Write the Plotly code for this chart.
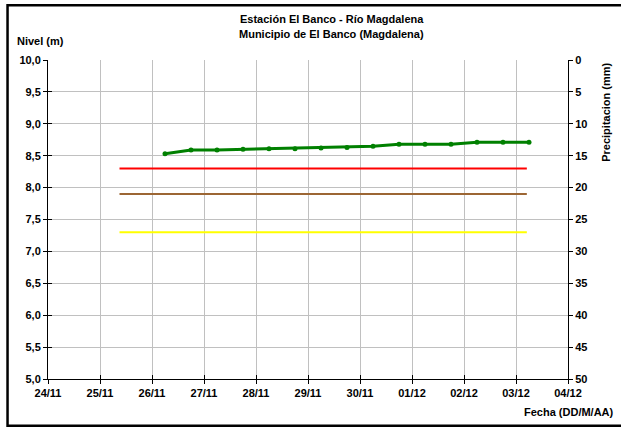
import plotly.graph_objects as go

# ---- data ----
nivel_times = [
    "2023-11-26 06:00", "2023-11-26 18:00", "2023-11-27 06:00", "2023-11-27 18:00",
    "2023-11-28 06:00", "2023-11-28 18:00", "2023-11-29 06:00", "2023-11-29 18:00",
    "2023-11-30 06:00", "2023-11-30 18:00", "2023-12-01 06:00", "2023-12-01 18:00",
    "2023-12-02 06:00", "2023-12-02 18:00", "2023-12-03 06:00",
]
nivel_values = [8.53, 8.59, 8.59, 8.60, 8.61, 8.61, 8.62, 8.63,
                8.65, 8.68, 8.68, 8.68, 8.71, 8.71, 8.71]

umbral_times = ["2023-11-25 09:00", "2023-12-03 05:00"]
umbral_rojo = 8.30
umbral_naranja = 7.90
umbral_amarillo = 7.30

x_range = ["2023-11-24", "2023-12-04"]
y_range = [5.0, 10.0]
y2_range = [50, 0]

FONT = "Arial, Liberation Sans, sans-serif"

fig = go.Figure()

for val, col in [(umbral_rojo, "#ff0000"), (umbral_naranja, "#9c6634"), (umbral_amarillo, "#ffff00")]:
    fig.add_trace(go.Scatter(x=umbral_times, y=[val, val], mode="lines",
                             line=dict(color=col, width=2), showlegend=False,
                             hoverinfo="skip"))

fig.add_trace(go.Scatter(x=nivel_times, y=nivel_values, mode="lines+markers",
                         line=dict(color="#008000", width=3),
                         marker=dict(color="#008000", size=5),
                         showlegend=False))

# dummy trace for the precipitation axis
fig.add_trace(go.Scatter(x=[x_range[0]], y=[None], yaxis="y2", mode="lines",
                         showlegend=False, hoverinfo="skip"))
# dummy trace for inner tick half on left / bottom axes
fig.add_trace(go.Scatter(x=[x_range[0]], y=[None], yaxis="y3", xaxis="x2", mode="lines",
                         showlegend=False, hoverinfo="skip"))

tickfont = dict(family=FONT, size=11, color="black", weight="bold")

fig.update_layout(
    width=621, height=428,
    margin=dict(l=48, r=52.5, t=59.5, b=48.5),
    paper_bgcolor="white", plot_bgcolor="white",
    separators=",.",
    font=dict(family=FONT, size=11, color="black"),
    xaxis=dict(type="date", range=x_range, dtick=86400000, tick0="2023-11-24",
               tickformat="%d/%m", showgrid=True, gridcolor="#c0c0c0", gridwidth=1,
               showline=True, linecolor="black", linewidth=1, ticks="outside",
               ticklen=4, tickcolor="black", tickfont=tickfont, zeroline=False),
    xaxis2=dict(type="date", range=x_range, dtick=86400000, tick0="2023-11-24",
                overlaying="x", showticklabels=False, showgrid=False,
                ticks="inside", ticklen=4, tickcolor="black", showline=False),
    yaxis=dict(range=y_range, dtick=0.5, tickformat=".1f", showgrid=True,
               gridcolor="#c0c0c0", gridwidth=1, showline=True, linecolor="black",
               linewidth=1, ticks="outside", ticklen=4, tickcolor="black",
               tickfont=tickfont, zeroline=False),
    yaxis2=dict(range=y2_range, dtick=5, overlaying="y", side="right",
                showgrid=False, showline=True, linecolor="black", linewidth=1,
                ticks="outside", ticklen=4, tickcolor="black", tickfont=tickfont,
                zeroline=False),
    yaxis3=dict(range=y_range, dtick=0.5, overlaying="y", showticklabels=False,
                showgrid=False, ticks="inside", ticklen=4, tickcolor="black",
                zeroline=False),
    shapes=[
        dict(type="rect", xref="paper", yref="paper",
             x0=(7.5 - 48) / 520.5, x1=1.2, y0=(379.5 - 426.5) / 320, y1=(379.5 - 4.5) / 320,
             line=dict(color="black", width=2.5), fillcolor="rgba(0,0,0,0)", layer="below"),
    ],
    annotations=[
        dict(text="<b>Estación El Banco - Río Magdalena</b>", xref="paper", yref="paper",
             x=(332 - 48) / 520.5, y=(379.5 - 18) / 320, xanchor="center", yanchor="middle",
             showarrow=False, font=dict(family=FONT, size=11)),
        dict(text="<b>Municipio de El Banco (Magdalena)</b>", xref="paper", yref="paper",
             x=(332 - 48) / 520.5, y=(379.5 - 33.5) / 320, xanchor="center", yanchor="middle",
             showarrow=False, font=dict(family=FONT, size=11)),
        dict(text="<b>Nivel (m)</b>", xref="paper", yref="paper",
             x=(15 - 48) / 520.5, y=(379.5 - 40.5) / 320, xanchor="left", yanchor="middle",
             showarrow=False, font=dict(family=FONT, size=11)),
        dict(text="<b>Fecha (DD/M/AA)</b>", xref="paper", yref="paper",
             x=(617 - 48) / 520.5, y=(379.5 - 413) / 320, xanchor="right", yanchor="middle",
             showarrow=False, font=dict(family=FONT, size=11)),
        dict(text="<b>Precipitacion (mm)</b>", xref="paper", yref="paper",
             x=(607 - 48) / 520.5, y=(379.5 - 112) / 320, xanchor="center", yanchor="middle",
             textangle=-90, showarrow=False, font=dict(family=FONT, size=11)),
    ],
)

fig.write_html("out.html", config={"displayModeBar": False},
               post_script="document.body.style.margin='0';document.body.style.overflow='hidden';")
